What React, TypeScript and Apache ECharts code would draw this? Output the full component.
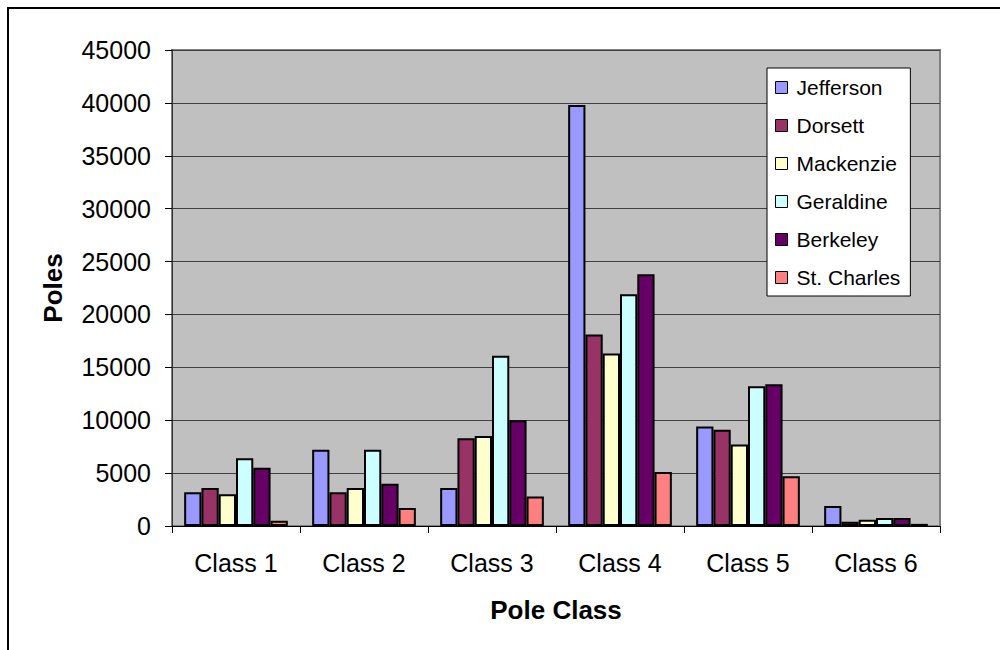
import React, { useEffect, useRef } from "react";
import * as echarts from "echarts";

const categories = ["Class 1", "Class 2", "Class 3", "Class 4", "Class 5", "Class 6"];
const seriesNames = ["Jefferson", "Dorsett", "Mackenzie", "Geraldine", "Berkeley", "St. Charles"];
const jefferson = [3200, 7200, 3600, 39800, 9400, 1900];
const dorsett = [3600, 3200, 8300, 18100, 9100, 400];
const mackenzie = [3000, 3600, 8500, 16300, 7700, 600];
const geraldine = [6400, 7200, 16100, 21900, 13200, 750];
const berkeley = [5500, 4000, 10000, 23800, 13400, 750];
const stCharles = [500, 1700, 2800, 5100, 4700, 200];
const seriesValues = [jefferson, dorsett, mackenzie, geraldine, berkeley, stCharles];
const seriesColors = ["#9999FF", "#993366", "#FFFFCC", "#CCFFFF", "#660066", "#FF8080"];

const FONT = "'Liberation Sans', Arial, sans-serif";

export default function App() {
  const ref = useRef<HTMLDivElement>(null);

  useEffect(() => {
    if (!ref.current) return;
    const chart = echarts.init(ref.current, undefined, { renderer: "svg" });
    chart.setOption({
      animation: false,
      backgroundColor: "#FFFFFF",
      textStyle: { fontFamily: FONT },
      grid: {
        left: 172,
        top: 50,
        right: 60,
        bottom: 124,
        show: true,
        backgroundColor: "#C0C0C0",
        borderColor: "#808080",
        borderWidth: 2,
      },
      legend: {
        orient: "vertical",
        left: 767,
        top: 68,
        width: 140,
        padding: [9, 10, 8, 8],
        backgroundColor: "#FFFFFF",
        borderColor: "#000000",
        borderWidth: 1,
        itemWidth: 12,
        itemHeight: 12,
        itemGap: 17,
        icon: "rect",
        itemStyle: { borderColor: "#000000", borderWidth: 1 },
        textStyle: {
          fontFamily: FONT,
          fontSize: 21,
          color: "#000000",
          lineHeight: 21,
          padding: [0, 0, 0, 4],
        },
        data: seriesNames,
      },
      xAxis: {
        type: "category",
        data: categories,
        name: "Pole Class",
        nameLocation: "middle",
        nameGap: 71,
        nameTextStyle: { fontFamily: FONT, fontSize: 26, fontWeight: "bold", color: "#000000" },
        axisLine: { show: true, lineStyle: { color: "#000000", width: 1 } },
        axisTick: { show: true, length: 7, lineStyle: { color: "#000000" } },
        axisLabel: { fontFamily: FONT, fontSize: 25, color: "#000000", margin: 24 },
        splitLine: { show: false },
      },
      yAxis: {
        type: "value",
        min: 0,
        max: 45000,
        interval: 5000,
        name: "Poles",
        nameLocation: "middle",
        nameGap: 106,
        nameRotate: 90,
        nameTextStyle: { fontFamily: FONT, fontSize: 26, fontWeight: "bold", color: "#000000" },
        axisLine: { show: true, lineStyle: { color: "#333333", width: 1 } },
        axisTick: { show: true, length: 7, lineStyle: { color: "#000000" } },
        axisLabel: {
          fontFamily: FONT,
          fontSize: 25,
          color: "#000000",
          margin: 21,
          formatter: (v: number) => String(v),
        },
        splitLine: { show: true, lineStyle: { color: "#404040", width: 1 } },
      },
      series: seriesNames.map((name, i) => ({
        name,
        type: "bar",
        data: seriesValues[i],
        barGap: "0%",
        barCategoryGap: "19%",
        itemStyle: { color: seriesColors[i], borderColor: "#000000", borderWidth: 2 },
      })),
      graphic: [
        {
          type: "polyline",
          shape: { points: [[8, 650], [8, 8], [1000, 8]] },
          style: { stroke: "#000000", lineWidth: 2, fill: "none" },
          z: 10,
        },
      ],
    });
    return () => chart.dispose();
  }, []);

  return (
    <div
      ref={ref}
      style={{ position: "fixed", left: 0, top: 0, width: 1000, height: 650 }}
    />
  );
}
